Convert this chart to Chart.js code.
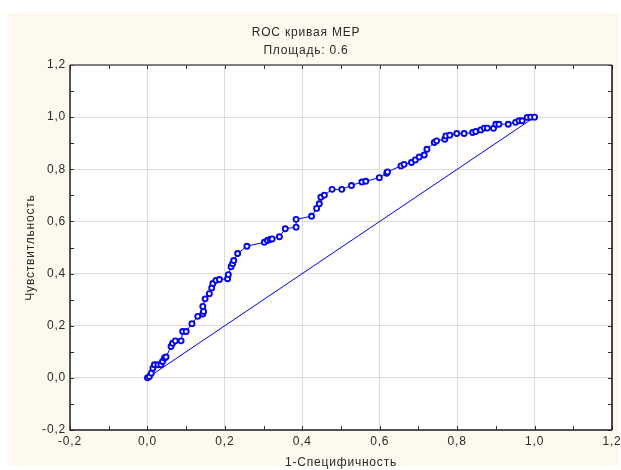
<!DOCTYPE html>
<html>
<head>
<meta charset="utf-8">
<script src="https://cdn.jsdelivr.net/npm/chart.js@4/dist/chart.umd.min.js"></script>
<style>
  html, body { margin: 0; padding: 0; background: #ffffff; }
  #c { display: block; }
</style>
</head>
<body>
<canvas id="c" width="621" height="470"></canvas>
<script>
// ---- data ----
const chartTitle = ['ROC кривая МЕР', 'Площадь: 0.6'];
const xAxisTitle = '1-Специфичность';
const yAxisTitle = 'Чувствитльность';
const xTickLabels = ['-0,2', '0,0', '0,2', '0,4', '0,6', '0,8', '1,0', '1,2'];
const yTickLabels = ['-0,2', '0,0', '0,2', '0,4', '0,6', '0,8', '1,0', '1,2'];
const fpr = [0, 0.005, 0.01, 0.014, 0.018, 0.027, 0.035, 0.039, 0.044, 0.048,
  0.061, 0.065, 0.072, 0.087, 0.091, 0.1, 0.115, 0.13, 0.143, 0.145,
  0.143, 0.149, 0.16, 0.166, 0.169, 0.177, 0.186, 0.207, 0.209, 0.216,
  0.22, 0.223, 0.233, 0.257, 0.302, 0.31, 0.317, 0.322, 0.341, 0.356,
  0.384, 0.384, 0.424, 0.437, 0.444, 0.448, 0.457, 0.477, 0.502, 0.527,
  0.554, 0.564, 0.599, 0.618, 0.62, 0.655, 0.663, 0.682, 0.692, 0.702,
  0.715, 0.722, 0.741, 0.747, 0.768, 0.771, 0.781, 0.799, 0.818, 0.84,
  0.848, 0.861, 0.87, 0.878, 0.894, 0.9, 0.908, 0.932, 0.951, 0.96,
  0.968, 0.981, 0.99, 1];
const tpr = [0, 0.005, 0.018, 0.037, 0.05, 0.05, 0.05, 0.063, 0.076, 0.08,
  0.12, 0.133, 0.142, 0.142, 0.178, 0.178, 0.208, 0.236, 0.245, 0.255,
  0.274, 0.303, 0.323, 0.345, 0.362, 0.374, 0.377, 0.38, 0.396, 0.426,
  0.438, 0.45, 0.477, 0.505, 0.52, 0.527, 0.531, 0.533, 0.541, 0.572,
  0.578, 0.608, 0.62, 0.65, 0.668, 0.693, 0.701, 0.723, 0.723, 0.738,
  0.751, 0.754, 0.768, 0.785, 0.79, 0.813, 0.819, 0.826, 0.836, 0.847,
  0.855, 0.877, 0.903, 0.909, 0.915, 0.928, 0.931, 0.937, 0.937, 0.941,
  0.945, 0.951, 0.958, 0.958, 0.957, 0.973, 0.973, 0.973, 0.98, 0.986,
  0.986, 0.999, 1, 1];
const diagX = [0, 1];
const diagY = [0, 1];

// ---- build ----
const rocPoints = fpr.map((x, i) => ({ x: x, y: tpr[i] }));
const diagPoints = diagX.map((x, i) => ({ x: x, y: diagY[i] }));

const FONT = "'Liberation Sans', Arial, sans-serif";
const TEXT = '#2a2a2a';
const BLUE = '#0000ff';
const SPACING = '0.8px';

const framePlugin = {
  id: 'frame',
  beforeUpdate(chart) {
    chart.ctx.letterSpacing = SPACING;
  },
  beforeDraw(chart) {
    const ctx = chart.ctx;
    ctx.letterSpacing = SPACING;
    const a = chart.chartArea;
    ctx.save();
    ctx.fillStyle = '#ffffff';
    ctx.fillRect(0, 0, chart.width, chart.height);
    ctx.fillStyle = '#fdf9ee';
    ctx.fillRect(8, 13, 611, 453);
    ctx.fillStyle = '#ffffff';
    ctx.fillRect(a.left, a.top, a.right - a.left, a.bottom - a.top);
    ctx.restore();
  },
  afterDraw(chart) {
    const ctx = chart.ctx;
    const a = chart.chartArea;
    const xs = chart.scales.x, ys = chart.scales.y;
    ctx.save();
    ctx.strokeStyle = '#333333';
    ctx.lineWidth = 1;
    const L = 4;
    ctx.beginPath();
    xs.ticks.forEach(t => {
      const px = Math.round(xs.getPixelForValue(t.value)) + 0.5;
      ctx.moveTo(px, a.bottom); ctx.lineTo(px, a.bottom - L);
      ctx.moveTo(px, a.top); ctx.lineTo(px, a.top + L);
    });
    ys.ticks.forEach(t => {
      const py = Math.round(ys.getPixelForValue(t.value)) + 0.5;
      ctx.moveTo(a.left, py); ctx.lineTo(a.left + L, py);
      ctx.moveTo(a.right, py); ctx.lineTo(a.right - L, py);
    });
    ctx.stroke();
    ctx.lineWidth = 1.5;
    ctx.strokeStyle = '#5a5a5a';
    ctx.beginPath(); ctx.moveTo(a.left, a.top); ctx.lineTo(a.right, a.top); ctx.stroke();
    ctx.strokeStyle = '#111111';
    ctx.beginPath(); ctx.moveTo(a.right, a.top); ctx.lineTo(a.right, a.bottom); ctx.stroke();
    ctx.strokeStyle = '#222222';
    ctx.beginPath(); ctx.moveTo(a.left, a.top); ctx.lineTo(a.left, a.bottom); ctx.lineTo(a.right, a.bottom); ctx.stroke();
    ctx.restore();
  }
};

new Chart(document.getElementById('c'), {
  type: 'line',
  data: {
    datasets: [
      {
        label: 'ROC',
        data: rocPoints,
        borderColor: BLUE,
        borderWidth: 1,
        backgroundColor: '#ffffff',
        pointBorderColor: BLUE,
        pointBackgroundColor: '#ffffff',
        pointRadius: 2.5,
        pointBorderWidth: 1.9,
        tension: 0,
        order: 1
      },
      {
        label: 'diag',
        data: diagPoints,
        borderColor: BLUE,
        borderWidth: 1,
        pointRadius: 0,
        tension: 0,
        order: 2
      }
    ]
  },
  options: {
    responsive: false,
    animation: false,
    devicePixelRatio: 1,
    layout: { padding: { left: 0, right: 9, top: 0, bottom: 0 } },
    plugins: {
      legend: { display: false },
      tooltip: { enabled: false },
      title: {
        display: true,
        text: chartTitle,
        color: TEXT,
        font: { family: FONT, size: 12, weight: 'normal', lineHeight: 1.5 },
        padding: { top: 24, bottom: 5 }
      }
    },
    scales: {
      x: {
        type: 'linear',
        min: -0.2, max: 1.2,
        afterFit(s) { s.height = 40; s.paddingLeft = 0; s.paddingRight = 0; },
        border: { display: false },
        grid: {
          drawTicks: false,
          color: c => (c.index % 2 === 0 ? '#dcdcdc' : 'rgba(0,0,0,0)'),
          lineWidth: 1
        },
        ticks: {
          stepSize: 0.1,
          autoSkip: false,
          maxRotation: 0,
          padding: 4,
          color: TEXT,
          font: { family: FONT, size: 12 },
          callback: (v, i) => (i % 2 === 0 ? xTickLabels[i / 2] : '')
        },
        title: {
          display: true,
          text: xAxisTitle,
          color: TEXT,
          font: { family: FONT, size: 12 },
          padding: { top: 0, bottom: 0 }
        }
      },
      y: {
        type: 'linear',
        min: -0.2, max: 1.2,
        afterFit(s) { s.width = 70; s.paddingTop = 0; s.paddingBottom = 0; },
        border: { display: false },
        grid: {
          drawTicks: false,
          color: c => (c.index % 2 === 0 ? '#dcdcdc' : 'rgba(0,0,0,0)'),
          lineWidth: 1
        },
        ticks: {
          stepSize: 0.1,
          autoSkip: false,
          padding: 4,
          color: TEXT,
          font: { family: FONT, size: 12 },
          callback: (v, i) => (i % 2 === 0 ? yTickLabels[i / 2] : '')
        },
        title: {
          display: true,
          text: yAxisTitle,
          color: TEXT,
          font: { family: FONT, size: 12 },
          padding: { top: 23, bottom: 0 }
        }
      }
    }
  },
  plugins: [framePlugin]
});
</script>
</body>
</html>
